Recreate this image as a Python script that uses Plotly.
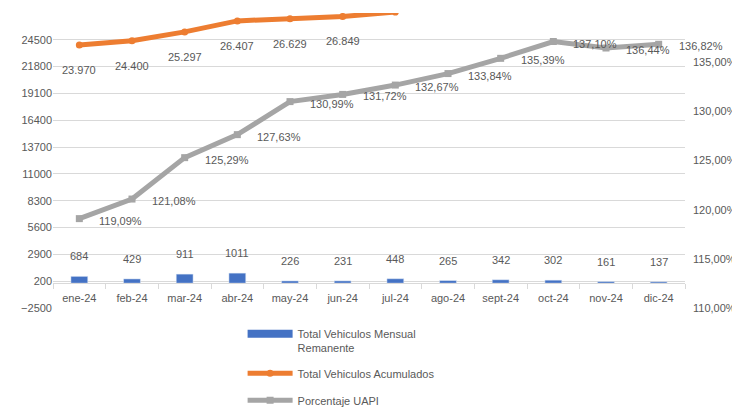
import plotly.graph_objects as go

months = ["ene-24", "feb-24", "mar-24", "abr-24", "may-24", "jun-24",
          "jul-24", "ago-24", "sept-24", "oct-24", "nov-24", "dic-24"]
monthly = [684, 429, 911, 1011, 226, 231, 448, 265, 342, 302, 161, 137]
accum = [23970, 24400, 25297, 26407, 26629, 26849, 27297, None, None, None, None, None]
pct = [119.09, 121.08, 125.29, 127.63, 130.99, 131.72, 132.67, 133.84, 135.39, 137.10, 136.44, 136.82]

left_ticks = [-2500, 200, 2900, 5600, 8300, 11000, 13700, 16400, 19100, 21800, 24500]
right_ticks = [110, 115, 120, 125, 130, 135, 140]
right_ticktext = ["110,00%", "115,00%", "120,00%", "125,00%", "130,00%", "135,00%", "140,00%"]
left_range = [-2500, 27200]
right_range = [110, 140]

BLUE = "#4472C4"
ORANGE = "#ED7D31"
GRAY = "#A5A5A5"
TXT = "#595959"
GRID = "#D9D9D9"
FONT = "Liberation Sans"

fig = go.Figure()

fig.add_trace(go.Bar(x=months, y=monthly, marker_color=BLUE, width=0.32,
                     showlegend=False, yaxis="y"))
fig.add_trace(go.Scatter(x=[months[0]], y=[None], mode="lines",
                         line=dict(color=BLUE, width=8),
                         name="Total Vehiculos Mensual<br>Remanente",
                         legendgroup="a"))
fig.add_trace(go.Scatter(x=months, y=accum, mode="lines+markers",
                         line=dict(color=ORANGE, width=5),
                         marker=dict(symbol="circle", size=7, color=ORANGE),
                         name="Total Vehiculos Acumulados", legendgroup="b",
                         cliponaxis=True, yaxis="y"))
fig.add_trace(go.Scatter(x=months, y=pct, mode="lines+markers",
                         line=dict(color=GRAY, width=5),
                         marker=dict(symbol="square", size=7, color=GRAY),
                         name="Porcentaje UAPI", legendgroup="c", yaxis="y2"))

annotations = []
for m, v in zip(months, monthly):
    annotations.append(dict(x=m, y=v, xref="x", yref="y", text=str(v),
                            showarrow=False, yshift=20,
                            font=dict(family=FONT, size=11, color=TXT)))
for m, v in zip(months, accum):
    if v is not None and v <= left_range[1]:
        annotations.append(dict(x=m, y=v, xref="x", yref="y",
                                text=f"{v:,.0f}".replace(",", "."),
                                showarrow=False, yshift=-25,
                                font=dict(family=FONT, size=11, color=TXT)))
for m, v in zip(months, pct):
    annotations.append(dict(x=m, y=v, xref="x", yref="y2",
                            text=f"{v:.2f}".replace(".", ",") + "%",
                            showarrow=False, xanchor="left", xshift=18, yshift=-2,
                            font=dict(family=FONT, size=11, color=TXT)))

zero_pos = (0 - left_range[0]) / (left_range[1] - left_range[0])

# page body adds an 8px margin, so the figure is 8px smaller on each axis
fig.update_layout(
    width=732, height=400, autosize=False,
    margin=dict(l=45, r=55, t=5, b=100),
    paper_bgcolor="white", plot_bgcolor="white",
    font=dict(family=FONT, size=11, color=TXT),
    separators=",.",
    xaxis=dict(type="category", categoryorder="array", categoryarray=months,
               range=[-0.5, len(months) - 0.5], anchor="free", position=zero_pos,
               showline=True, linecolor=GRID, linewidth=1, automargin=False,
               ticks="outside", tickson="boundaries", ticklen=5, tickcolor=GRID,
               ticklabelstandoff=5,
               showgrid=False, tickfont=dict(family=FONT, size=11, color=TXT)),
    yaxis=dict(range=left_range, tickvals=left_ticks, tickformat="d", automargin=False,
               showgrid=True, gridcolor=GRID, gridwidth=1, zeroline=False,
               showline=False, ticks="", tickfont=dict(family=FONT, size=11, color=TXT)),
    yaxis2=dict(range=right_range, tickvals=right_ticks, ticktext=right_ticktext,
                overlaying="y", side="right", showgrid=False, zeroline=False,
                showline=False, ticks="", ticklabelstandoff=7, automargin=False,
                tickfont=dict(family=FONT, size=11, color=TXT)),
    legend=dict(x=0.30, xref="paper", y=1 - 312 / 400, yref="container",
                xanchor="left", yanchor="top", valign="top",
                orientation="v", tracegroupgap=8, itemwidth=45,
                font=dict(family=FONT, size=11, color=TXT),
                bgcolor="rgba(0,0,0,0)"),
    annotations=annotations,
)

fig.write_html("out.html")
